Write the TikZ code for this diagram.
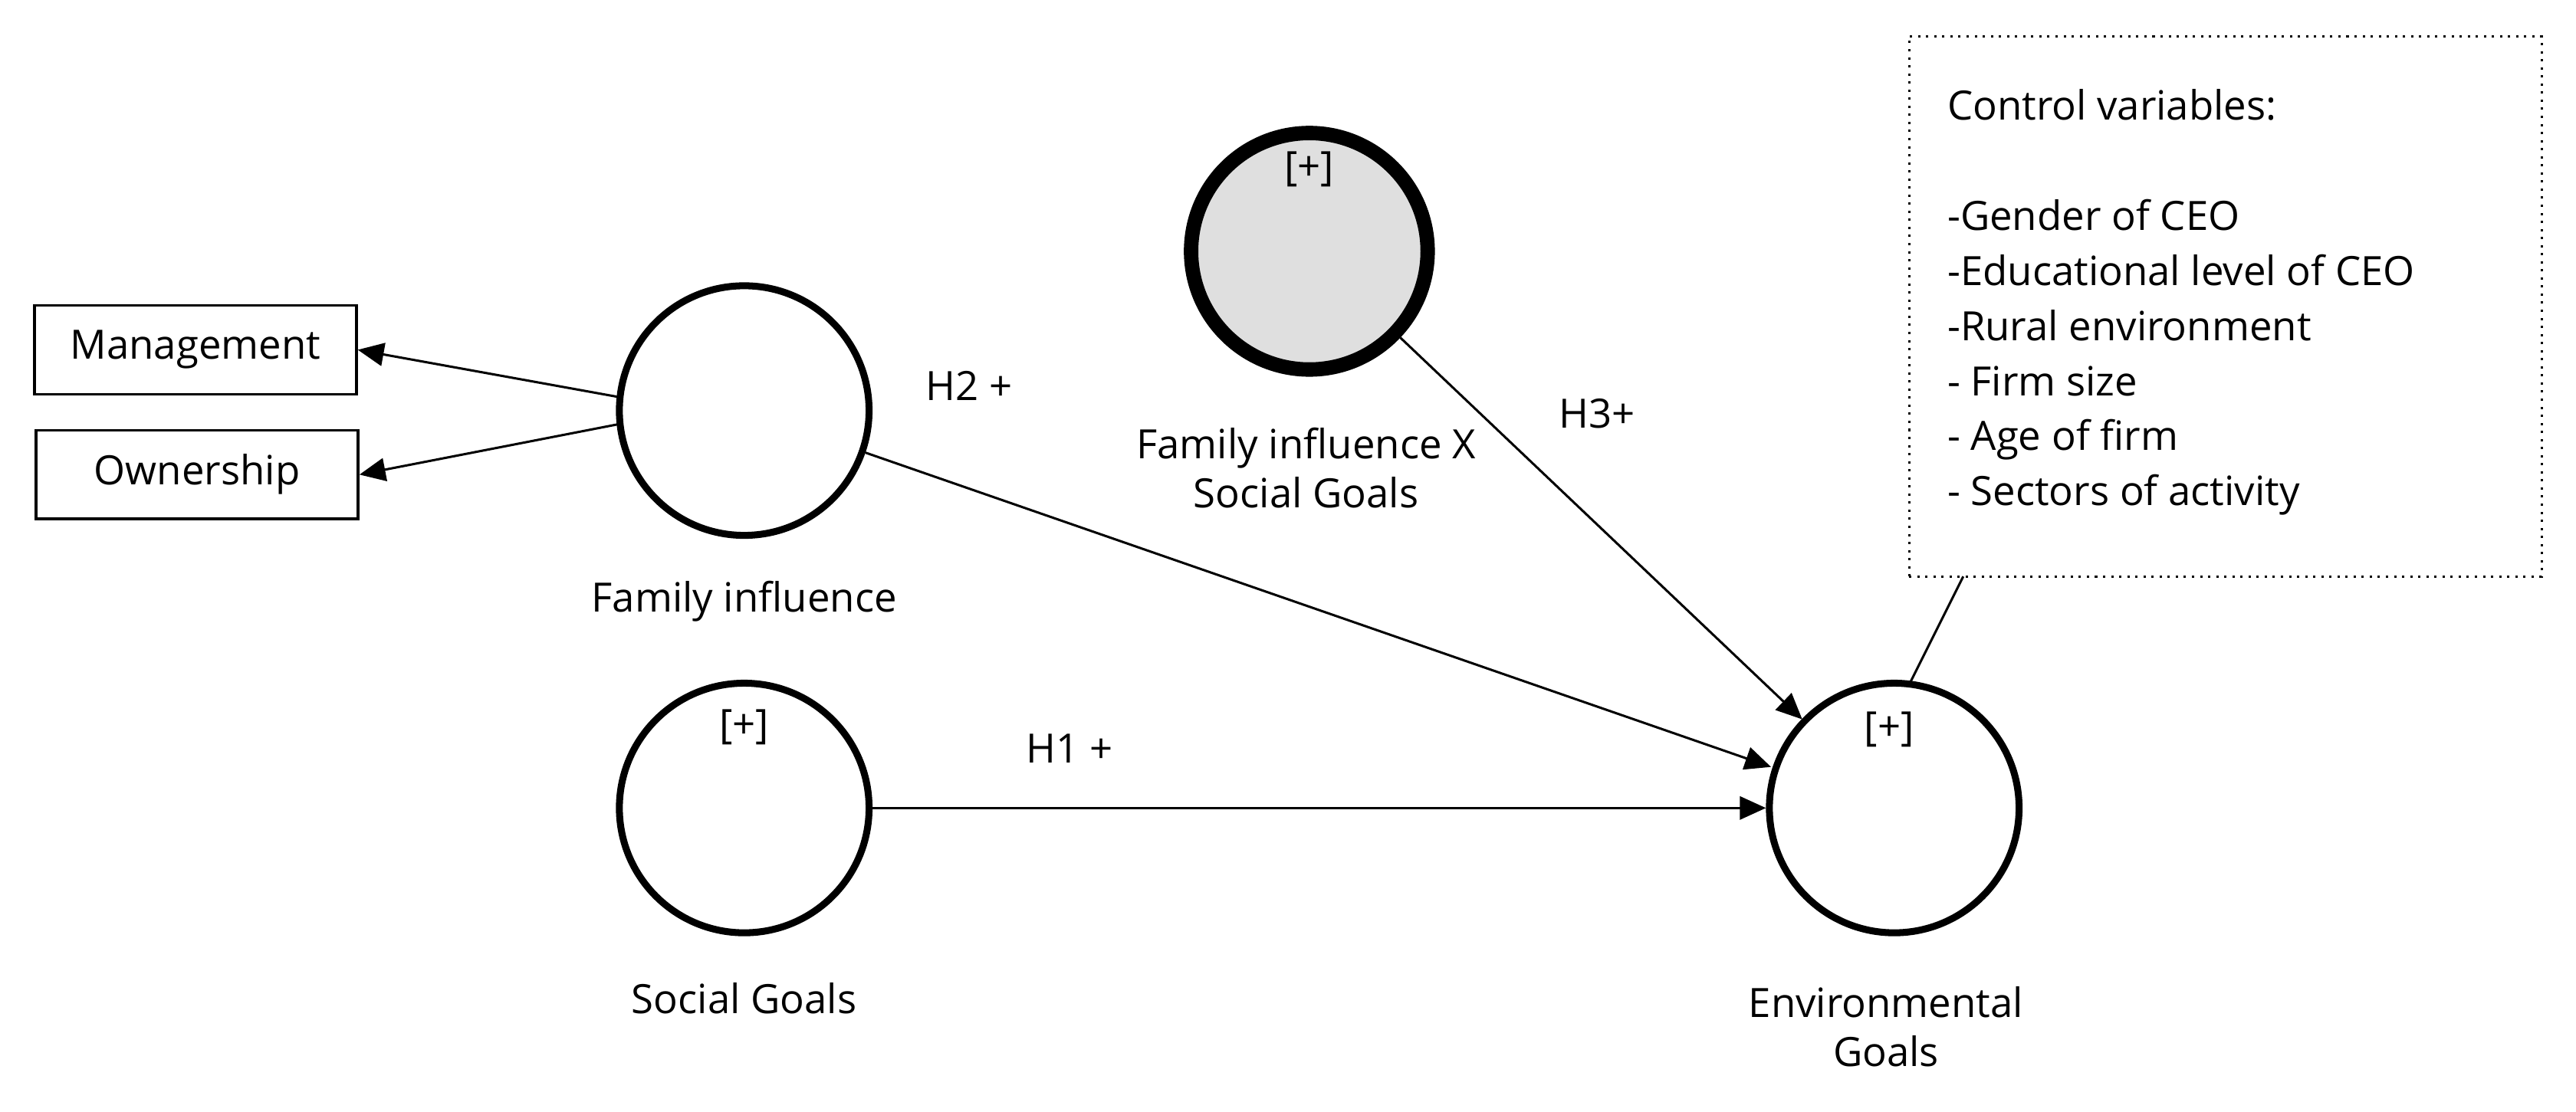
\documentclass[tikz,border=0pt]{standalone}
\usepackage{fontspec}
\setmainfont{Open Sans}
\usetikzlibrary{arrows.meta}
\begin{document}
\begin{tikzpicture}[x=0.02cm,y=-0.02cm,
  every node/.style={font=\fontsize{14}{17}\selectfont},
  lv/.style={circle,draw,line width=2.4pt,minimum size=2*76*0.02cm,inner sep=0},
  ind/.style={draw,line width=0.9pt,minimum width=196*0.02cm,minimum height=54*0.02cm},
  arr/.style={-{Triangle[length=9pt,width=8pt]},line width=0.8pt}]
\useasboundingbox (0,0) rectangle (1568,677);
\node[ind] (man) at (119,213) {Management};
\node[ind] (own) at (120,289) {Ownership};
\node[lv] (fi) at (453,250) {};
\node at (453,366) {Family influence};
\node[lv,line width=5pt,fill=gray!25,minimum size=2*72*0.02cm] (fx) at (797,153) {};
\node at (797,103) {[+]};
\node[align=center] at (795,285) {Family influence X\\Social Goals};
\node[lv] (sg) at (453,492) {};
\node at (453,443) {[+]};
\node at (453,608) {Social Goals};
\node[lv] (eg) at (1153,492) {};
\node at (1150,444) {[+]};
\node[align=center] at (1148,625) {Environmental\\Goals};
\draw[arr] (378,242) -- (man.east);
\draw[arr] (378,258) -- (own.east);
\draw[arr] (fi) -- (1078,467);
\draw[arr] (fx) -- (1097,438);
\draw[arr] (sg) -- (eg);
\node at (590,235) {H2 +};
\node at (972,252) {H3+};
\node at (651,456) {H1 +};
\node[draw,dotted,line width=0.8pt,minimum width=385*0.02cm,minimum height=329*0.02cm] (cv) at (1354.5,186.5) {};
\node[anchor=north west,align=left,inner sep=0,font=\fontsize{14}{19.1}\selectfont] at (1185,54) {Control variables:\\[0pt] \\-Gender of CEO\\-Educational level of CEO\\-Rural environment\\- Firm size\\- Age of firm\\- Sectors of activity};
\coordinate (cvp) at (1195,351);
\draw[line width=0.8pt] (cvp) -- (1163,415);
\end{tikzpicture}
\end{document}
